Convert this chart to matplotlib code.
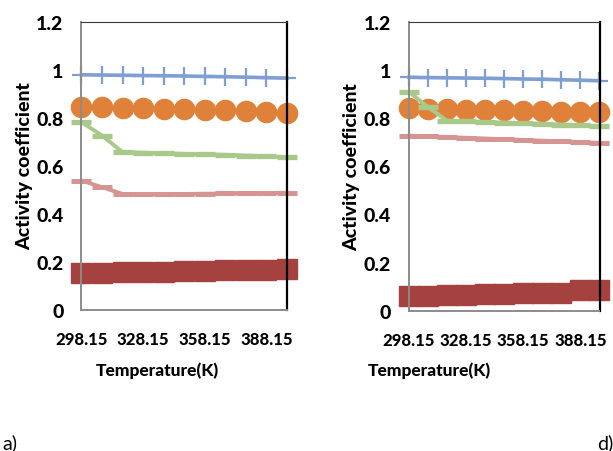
import matplotlib
matplotlib.use("Agg")
import matplotlib.pyplot as plt

# ---- data ----
temps = [298.15, 308.15, 318.15, 328.15, 338.15, 348.15, 358.15, 368.15, 378.15, 388.15, 398.15]
xtick_vals = [298.15, 328.15, 358.15, 388.15]
xtick_labels = ["298.15", "328.15", "358.15", "388.15"]
ytick_vals = [0, 0.2, 0.4, 0.6, 0.8, 1.0, 1.2]
ytick_labels = ["0", "0.2", "0.4", "0.6", "0.8", "1", "1.2"]

blue_a = [0.979, 0.978, 0.977, 0.976, 0.975, 0.974, 0.972, 0.971, 0.969, 0.967, 0.965]
orange_a = [0.845, 0.843, 0.841, 0.839, 0.837, 0.835, 0.833, 0.831, 0.828, 0.826, 0.822]
green_a = [0.782, 0.726, 0.657, 0.655, 0.652, 0.650, 0.648, 0.646, 0.643, 0.640, 0.636]
pink_a = [0.539, 0.511, 0.483, 0.482, 0.482, 0.483, 0.484, 0.485, 0.486, 0.487, 0.488]
red_a = [0.154, 0.154, 0.158, 0.158, 0.158, 0.163, 0.163, 0.167, 0.167, 0.167, 0.172]

blue_d = [0.969, 0.968, 0.967, 0.966, 0.965, 0.964, 0.962, 0.961, 0.959, 0.957, 0.955]
orange_d = [0.840, 0.838, 0.837, 0.835, 0.833, 0.832, 0.830, 0.829, 0.827, 0.826, 0.824]
green_d = [0.909, 0.845, 0.789, 0.786, 0.783, 0.781, 0.778, 0.776, 0.773, 0.770, 0.766]
pink_d = [0.727, 0.724, 0.721, 0.718, 0.715, 0.712, 0.709, 0.706, 0.703, 0.700, 0.697]
red_d = [0.062, 0.062, 0.066, 0.066, 0.070, 0.070, 0.075, 0.075, 0.075, 0.086, 0.086]

panels = [
    dict(blue=blue_a, orange=orange_a, green=green_a, pink=pink_a, red=red_a, tag="a)"),
    dict(blue=blue_d, orange=orange_d, green=green_d, pink=pink_d, red=red_d, tag="d)"),
]

# ---- style ----
C_BLUE = "#7f9fd4"
C_ORANGE = "#e0813a"
C_GREEN = "#a9c98b"
C_PINK = "#d69593"
C_RED = "#a5423f"
FONT = ["Lato", "DejaVu Sans"]
BOLD = 900

W, H = 613, 452
fig = plt.figure(figsize=(W / 100, H / 100), dpi=100)

# axes boxes in pixels: left, right, top, bottom
boxes = [(81.5, 287, 22.7, 311), (409, 599.5, 22.7, 311.7)]
xlabel_pos = [(157, 371), (429, 371)]
ylabel_pos = [(25, 166), (352, 167)]
tag_pos = [(2, 443, "left"), (613, 443, "right")]

for p, (l, r, t, b), (xlx, xly), (ylx, yly), (tx, ty, tha) in zip(panels, boxes, xlabel_pos, ylabel_pos, tag_pos):
    ax = fig.add_axes([l / W, 1 - b / H, (r - l) / W, (b - t) / H])
    ax.set_xlim(temps[0], temps[-1])
    ax.set_ylim(0, 1.2)

    ax.plot(temps, p["blue"], color=C_BLUE, lw=2.6, marker="+", ms=13, mew=1.6,
            clip_on=False, zorder=3)
    ax.plot(temps, p["orange"], color=C_ORANGE, lw=2.6, marker="o", ms=14.5,
            mec=C_ORANGE, clip_on=False, zorder=3)
    ax.plot(temps, p["pink"], color=C_PINK, lw=2.8, marker="_", ms=14, mew=3.6,
            clip_on=False, zorder=3)
    ax.plot(temps, p["green"], color=C_GREEN, lw=2.8, marker="_", ms=14.5, mew=3.8,
            clip_on=False, zorder=4)
    ax.plot(temps, p["red"], color=C_RED, lw=2.6, marker="s", ms=15, mec=C_RED,
            clip_on=False, zorder=3)

    for s in ("left", "bottom"):
        ax.spines[s].set_color("#8c8c8c")
        ax.spines[s].set_linewidth(1.4)
    ax.spines["top"].set_color("#3a3a3a")
    ax.spines["top"].set_linewidth(0.8)
    ax.spines["right"].set_color("black")
    ax.spines["right"].set_linewidth(1.6)
    for s in ax.spines.values():
        s.set_zorder(5)

    ax.set_yticks(ytick_vals)
    ax.set_yticklabels(ytick_labels, fontfamily=FONT, fontweight=BOLD, fontsize=14)
    ax.set_xticks(xtick_vals)
    ax.set_xticklabels(xtick_labels, fontfamily=FONT, fontweight=BOLD, fontsize=12)
    ax.tick_params(axis="y", length=0, pad=13)
    ax.tick_params(axis="x", length=0, pad=15)

    ax.set_xlabel("Temperature(K)", fontfamily=FONT, fontweight=BOLD, fontsize=12.5)
    ax.xaxis.set_label_coords((xlx - l) / (r - l), (b - xly) / (b - t))
    ax.xaxis.label.set_va("center")
    ax.set_ylabel("Activity coefficient", fontfamily=FONT, fontweight=BOLD, fontsize=14)
    ax.yaxis.set_label_coords((ylx - l) / (r - l), (b - yly) / (b - t))
    ax.yaxis.label.set_va("center")

    fig.text(tx / W, 1 - ty / H, p["tag"], fontfamily=FONT, fontsize=14,
             ha=tha, va="center")

fig.savefig("out.png", dpi=100)
